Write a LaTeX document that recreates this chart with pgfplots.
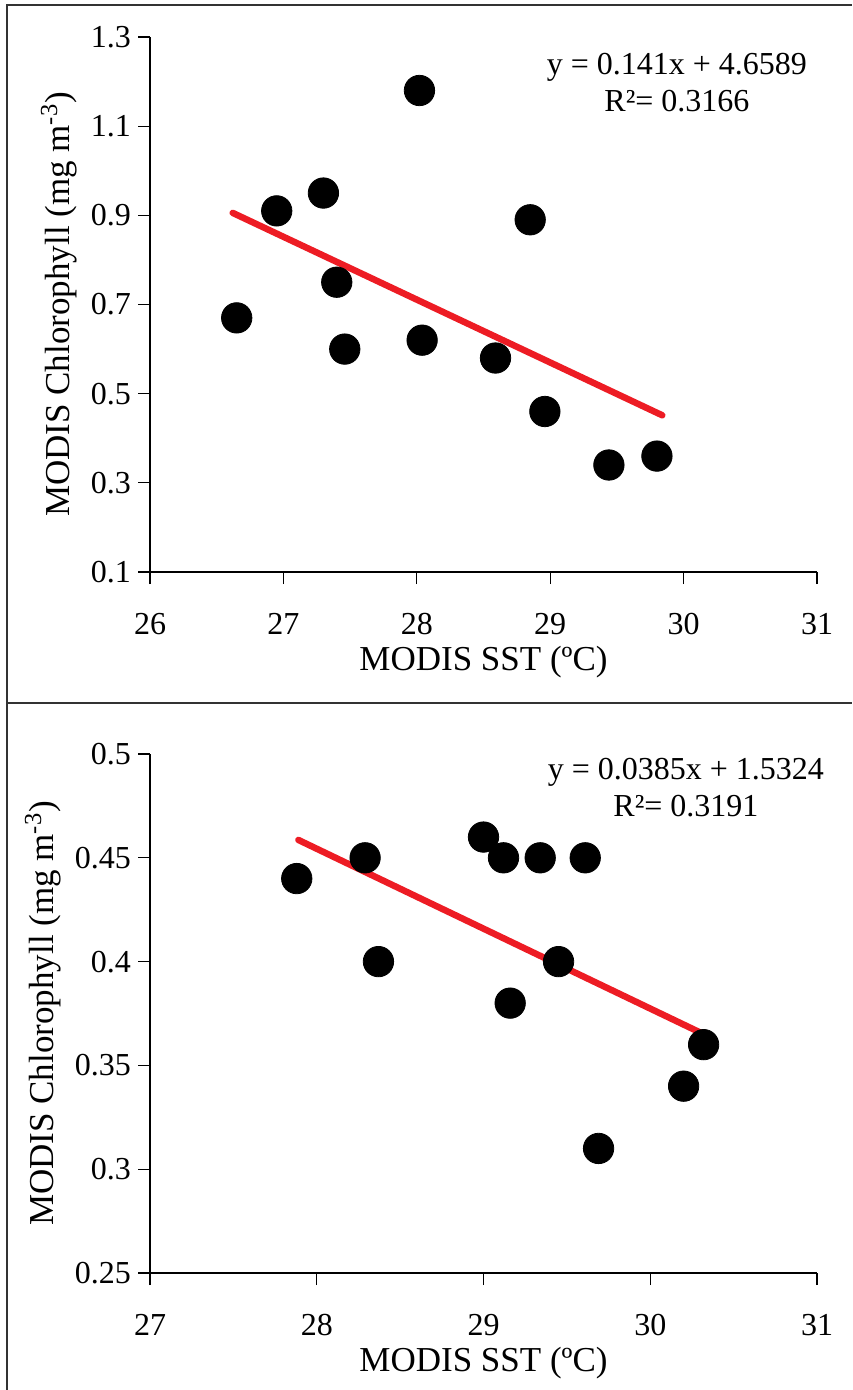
\documentclass[border=0pt]{standalone}
\usepackage{pgfplots}
\pgfplotsset{compat=1.18}
\usepackage{fontspec}
\setmainfont{Liberation Serif}
\definecolor{trend}{RGB}{237,28,36}
\pgfplotsset{
  chlstyle/.style={
    scale only axis, width=333.5pt,
    axis lines=left, axis line style={-, line width=0.6pt},
    tick align=outside, major tick length=6pt,
    every tick/.style={black, line width=0.6pt},
    tick label style={font=\fontsize{16}{18}\selectfont},
    xticklabel style={yshift=-11pt},
    label style={font=\fontsize{17.5}{21}\selectfont},
    xlabel style={yshift=1pt},
    /pgf/number format/assume math mode=true,
    clip=false,
    ylabel={MODIS Chlorophyll (mg m\textsuperscript{-3})},
    xlabel={MODIS SST (ºC)},
    anchor=south west,
  },
  dots/.style={only marks, mark=*, mark size=7.6pt, black},
  fit/.style={trend, line width=3.25pt, line cap=round},
}
\begin{document}
\begin{tikzpicture}
\path[use as bounding box] (0,0) rectangle (426pt,-695pt);
\draw[line width=1pt, black!80] (3.25pt,-695pt) -- (3.25pt,-2.75pt) -- (426pt,-2.75pt);
\draw[line width=1pt, black!80] (3.25pt,-351.5pt) -- (426pt,-351.5pt);

% upper panel
\begin{axis}[chlstyle, at={(75pt,-286pt)}, height=267.5pt,
  xmin=26, xmax=31, ymin=0.1, ymax=1.3,
  xtick={26,27,28,29,30,31},
  ytick={0.1,0.3,0.5,0.7,0.9,1.1,1.3},
  yticklabel style={/pgf/number format/.cd, fixed, precision=1}]
\addplot[dots] coordinates {
(26.65,0.67) (26.95,0.91) (27.30,0.95) (27.40,0.75) (27.46,0.60)
(28.02,1.18) (28.04,0.62) (28.85,0.89) (28.59,0.58) (28.96,0.46)
(29.44,0.34) (29.80,0.36)
};
\addplot[fit] coordinates {(26.62,0.9055) (29.84,0.4515)};
\node[align=center, font=\fontsize{16}{18.5}\selectfont] at (axis cs:29.95,1.197)
  {y = 0.141x + 4.6589\\R²= 0.3166};
\end{axis}

% lower panel
\begin{axis}[chlstyle, at={(75pt,-636.5pt)}, height=259.5pt,
  xmin=27, xmax=31, ymin=0.25, ymax=0.5,
  xtick={27,28,29,30,31},
  ytick={0.25,0.3,0.35,0.4,0.45,0.5}]
\addplot[dots] coordinates {
(27.88,0.44) (28.29,0.45) (28.37,0.40) (29.00,0.46) (29.12,0.45)
(29.34,0.45) (29.61,0.45) (29.16,0.38) (29.45,0.40) (29.69,0.31)
(30.20,0.34) (30.32,0.36)
};
\addplot[fit] coordinates {(27.89,0.4586) (30.376,0.3629)};
\node[align=center, font=\fontsize{16}{18.5}\selectfont] at (axis cs:30.214,0.4837)
  {y = 0.0385x + 1.5324\\R²= 0.3191};
\end{axis}
\end{tikzpicture}
\end{document}
